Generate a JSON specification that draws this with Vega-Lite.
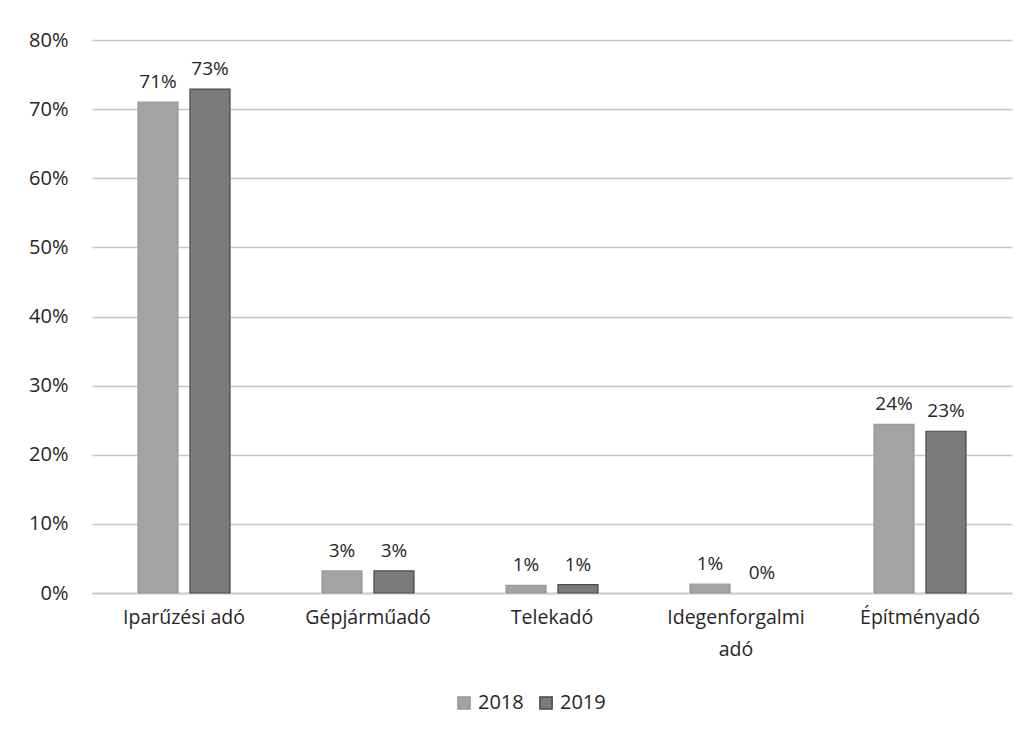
{
  "$schema": "https://vega.github.io/schema/vega-lite/v6.json",
  "width": 920,
  "height": 553,
  "autosize": {"type": "none"},
  "padding": {"left": 92, "top": 40, "right": 18, "bottom": 145},
  "background": "white",
  "config": {
    "font": "Open Sans",
    "view": {"stroke": null},
    "axis": {"labelFont": "Open Sans", "labelColor": "#262626"}
  },
  "data": {
    "values": [
      {"kategoria": "Iparűzési adó", "ev": "2018", "ertek": 0.71},
      {"kategoria": "Iparűzési adó", "ev": "2019", "ertek": 0.729},
      {"kategoria": "Gépjárműadó", "ev": "2018", "ertek": 0.032},
      {"kategoria": "Gépjárműadó", "ev": "2019", "ertek": 0.032},
      {"kategoria": "Telekadó", "ev": "2018", "ertek": 0.011},
      {"kategoria": "Telekadó", "ev": "2019", "ertek": 0.012},
      {"kategoria": "Idegenforgalmi adó", "ev": "2018", "ertek": 0.013},
      {"kategoria": "Idegenforgalmi adó", "ev": "2019", "ertek": 0.0},
      {"kategoria": "Építményadó", "ev": "2018", "ertek": 0.244},
      {"kategoria": "Építményadó", "ev": "2019", "ertek": 0.234}
    ]
  },
  "encoding": {
    "x": {
      "field": "kategoria",
      "type": "nominal",
      "sort": null,
      "scale": {"paddingInner": 0.5, "paddingOuter": 0.25},
      "axis": {
        "title": null,
        "labelAngle": 0,
        "labelFontSize": 19.5,
        "labelPadding": 15,
        "ticks": false,
        "domain": true,
        "domainColor": "#c8c8c8",
        "domainWidth": 1.5,
        "labelLineHeight": 32,
        "labelExpr": "datum.value == 'Idegenforgalmi adó' ? ['Idegenforgalmi', 'adó'] : datum.value"
      }
    },
    "xOffset": {"field": "ev", "type": "nominal", "scale": {"paddingInner": 0.23}},
    "y": {
      "field": "ertek",
      "type": "quantitative",
      "scale": {"domain": [0, 0.8], "nice": false},
      "axis": {
        "title": null,
        "format": ".0%",
        "values": [0, 0.1, 0.2, 0.3, 0.4, 0.5, 0.6, 0.7, 0.8],
        "labelOverlap": false,
        "labelFontSize": 20,
        "labelPadding": 24,
        "ticks": false,
        "domain": false,
        "gridColor": "#c8c8c8",
        "gridWidth": 1.5
      }
    }
  },
  "layer": [
    {
      "mark": {"type": "bar", "strokeWidth": 1.2},
      "encoding": {
        "color": {
          "field": "ev",
          "type": "nominal",
          "scale": {"domain": ["2018", "2019"], "range": ["#a3a3a3", "#7a7c7b"]},
          "legend": {
            "title": null,
            "orient": "none",
            "direction": "horizontal",
            "legendX": 362,
            "legendY": 653,
            "symbolType": "square",
            "symbolSize": 150,
            "symbolStrokeColor": "#555555",
            "labelFontSize": 20,
            "labelFont": "Open Sans",
            "labelColor": "#262626",
            "columnPadding": 12
          }
        },
        "stroke": {
          "field": "ev",
          "type": "nominal",
          "scale": {"domain": ["2018", "2019"], "range": ["#9a9a9a", "#4a4a4a"]},
          "legend": null
        },
        "strokeOpacity": {"condition": {"test": "datum.ertek == 0", "value": 0}, "value": 1}
      }
    },
    {
      "mark": {"type": "text", "baseline": "bottom", "dy": -10, "fontSize": 19, "color": "#262626"},
      "encoding": {
        "text": {"field": "ertek", "type": "quantitative", "format": ".0%"}
      }
    }
  ]
}
